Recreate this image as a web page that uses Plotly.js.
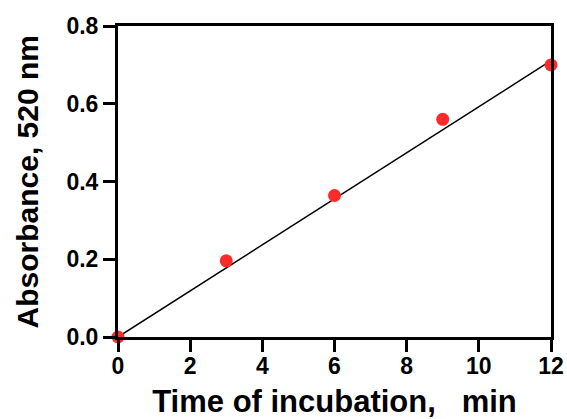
<!DOCTYPE html>
<html><head><meta charset="utf-8">
<script src="https://cdn.plot.ly/plotly-3.0.1.min.js"></script>
<style>html,body{margin:0;padding:0;background:#fff}#c{width:567px;height:419px}</style>
</head><body><div id="c"></div>
<script>
const timeMin = [0, 3, 6, 9, 12];
const absorbance = [0.0, 0.196, 0.364, 0.56, 0.70];
const fitX = [0, 12];
const fitY = [0, 0.711];
const xTicks = [0, 2, 4, 6, 8, 10, 12];
const xTickLabels = ['0', '2', '4', '6', '8', '10', '12'];
const yTicks = [0, 0.2, 0.4, 0.6, 0.8];
const yTickLabels = ['0.0', '0.2', '0.4', '0.6', '0.8'];
const xTitle = 'Time of incubation,   min';
const yTitle = 'Absorbance, 520 nm';

const font = {family: 'Liberation Sans, Arial, sans-serif', color: '#000', weight: 'bold'};
const bold = s => '<b>' + s + '</b>';
const axisCommon = {
  showgrid: false, zeroline: false, showline: true, linewidth: 3, linecolor: '#000',
  mirror: true, ticks: 'outside', ticklen: 12, tickwidth: 3, tickcolor: '#000',
  tickfont: Object.assign({size: 23}, font)
};
Plotly.newPlot('c', [
  {x: fitX, y: fitY, mode: 'lines', line: {color: '#000', width: 1.5}, hoverinfo: 'skip', cliponaxis: false},
  {x: timeMin, y: absorbance, mode: 'markers', marker: {color: '#ff2a2a', size: 13}, cliponaxis: false}
], {
  width: 567, height: 419, showlegend: false,
  paper_bgcolor: '#fff', plot_bgcolor: '#fff',
  margin: {l: 118, r: 16, t: 26, b: 82},
  xaxis: Object.assign({}, axisCommon, {range: [0, 12], tickvals: xTicks, ticktext: xTickLabels.map(bold),
    ticklabelstandoff: -6,
    title: {text: bold(xTitle), font: Object.assign({size: 31}, font), standoff: 14}}),
  yaxis: Object.assign({}, axisCommon, {range: [0, 0.8], tickvals: yTicks, ticktext: yTickLabels.map(bold)}),
  annotations: [{text: bold(yTitle), xref: 'paper', yref: 'paper', x: -0.208, y: 0.5,
    xanchor: 'center', yanchor: 'middle', textangle: -90, showarrow: false,
    font: Object.assign({size: 30}, font)}]
}, {displayModeBar: false, staticPlot: true});
</script></body></html>
